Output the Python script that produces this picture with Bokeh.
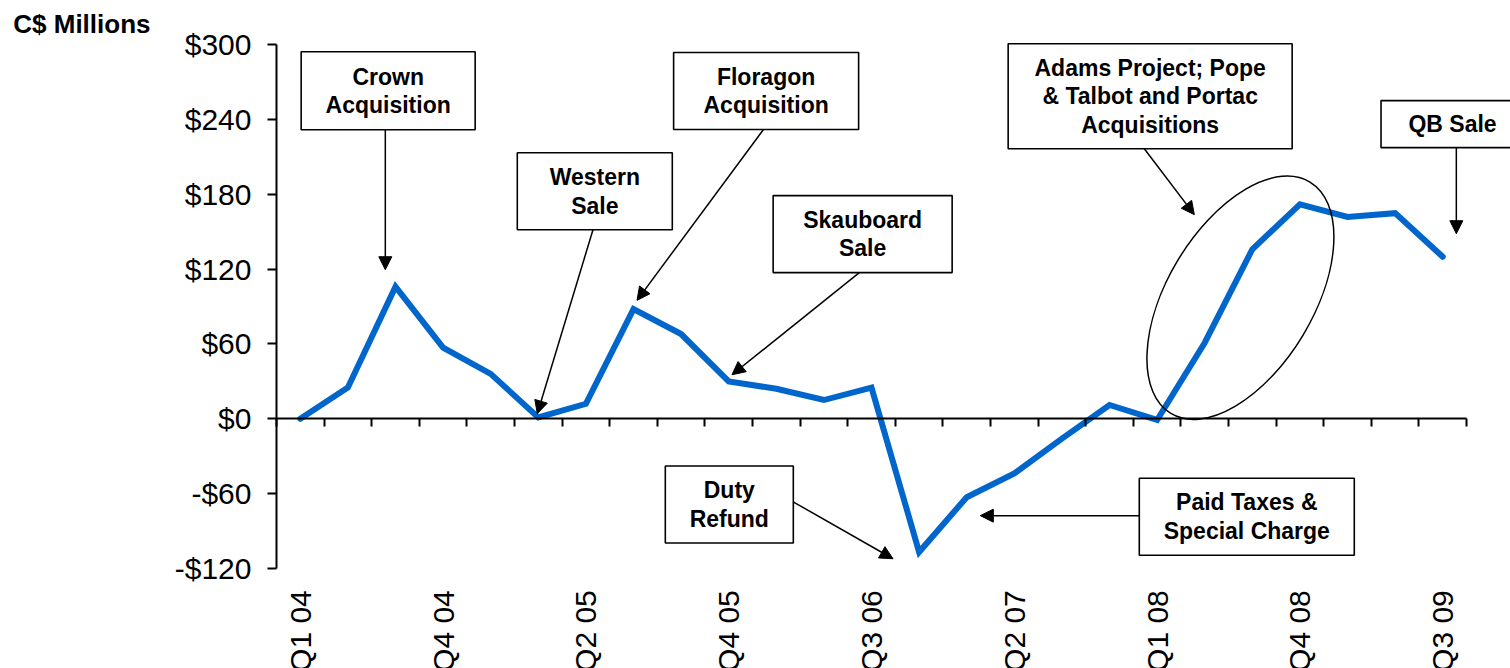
import math

from bokeh.core.properties import value
from bokeh.embed import file_html
from bokeh.models import (Arrow, ColumnDataSource, FixedTicker, LinearAxis,
                          NormalHead, NumeralTickFormatter, Range1d)
from bokeh.plotting import figure
from bokeh.resources import INLINE

# Quarterly values, C$ millions (Q1 04 .. Q3 09)
values = [0, 25, 106, 57, 36, 1, 12, 88, 68, 30, 24, 15, 25,
          -107, -63, -44, -16, 11, -1, 61, 136, 172, 162, 165, 130]

# Category labels shown on every third quarter
tick_labels = ["Q1 04", "Q4 04", "Q2 05", "Q4 05", "Q3 06",
               "Q2 07", "Q1 08", "Q4 08", "Q3 09"]
tick_step = 3

y_ticks = [-120, -60, 0, 60, 120, 180, 240, 300]

# Callout boxes: text, centre (x in quarter index, y in C$ M), size in px
callout_text = [
    "Crown\nAcquisition",
    "Western\nSale",
    "Floragon\nAcquisition",
    "Skauboard\nSale",
    "Adams Project; Pope\n& Talbot and Portac\nAcquisitions",
    "QB Sale",
    "Duty\nRefund",
    "Paid Taxes &\nSpecial Charge",
]
callout_x = [1.846, 6.187, 9.786, 11.814, 17.854, 24.206, 9.013, 19.884]
callout_y = [263.2, 182.6, 263.0, 148.2, 258.9, 236.5, -68.8, -78.7]
callout_w = [174, 155, 185, 179, 284, 143, 128, 215]
callout_h = [78, 77, 77, 77, 105, 47, 77, 77]

# Leader arrows: (x0, y0) -> (x1, y1)
arrow_x0 = [1.786, 6.149, 9.727, 11.744, 17.731, 24.286, 10.363, 17.626]
arrow_y0 = [232.0, 151.7, 232.0, 117.2, 216.7, 217.5, -66.9, -77.8]
arrow_x1 = [1.786, 4.979, 7.074, 9.069, 18.782, 24.286, 12.452, 14.286]
arrow_y1 = [119.6, 4.0, 95.0, 35.3, 163.8, 148.5, -112.4, -77.8]

# Ellipse around the 2008 acquisitions
ring_x, ring_y = 19.75, 97.1
ring_w, ring_h, ring_angle = 270, 146, 59

FONT = "Liberation Sans"
BLUE = "#0066CC"

n = len(values)
xs = list(range(n))

p = figure(width=1510, height=668, output_backend="svg", toolbar_location=None,
           x_range=Range1d(-6.298, 25.424), y_range=Range1d(-200.5, 335.7),
           x_axis_location=None, y_axis_location=None, min_border=0,
           outline_line_color=None, background_fill_color="white",
           border_fill_color="white")
p.grid.visible = False

# y axis with dollar labels, pinned at the left edge of the series
yax = LinearAxis(fixed_location=-0.5, bounds=(y_ticks[0], y_ticks[-1]),
                 ticker=FixedTicker(ticks=y_ticks),
                 formatter=NumeralTickFormatter(format="$0"))
yax.axis_line_width = 2
yax.major_tick_line_width = 2
yax.major_tick_out = 9
yax.major_tick_in = 0
yax.minor_tick_line_color = None
yax.major_label_standoff = 16
yax.major_label_text_font = FONT
yax.major_label_text_font_size = "30px"
yax.major_label_text_color = "black"
p.add_layout(yax, "left")

# zero line with a tick between each quarter
zax = LinearAxis(fixed_location=0, bounds=(-0.5, n - 0.5),
                 ticker=FixedTicker(ticks=[k - 0.5 for k in range(n + 1)]))
zax.axis_line_width = 2
zax.major_tick_line_width = 2
zax.major_tick_out = 8
zax.major_tick_in = 0
zax.minor_tick_line_color = None
zax.major_label_text_color = None
p.add_layout(zax, "below")

# quarter labels along the bottom
label_pos = list(range(0, n, tick_step))
xax = LinearAxis(fixed_location=y_ticks[0],
                 ticker=FixedTicker(ticks=label_pos))
xax.major_label_overrides = {pos: lab for pos, lab in zip(label_pos, tick_labels)}
xax.axis_line_color = None
xax.major_tick_line_color = None
xax.minor_tick_line_color = None
xax.major_tick_out = 0
xax.major_tick_in = 0
xax.major_label_standoff = 22
xax.major_label_orientation = math.pi / 2
xax.major_label_text_font = FONT
xax.major_label_text_font_size = "30px"
xax.major_label_text_color = "black"
p.add_layout(xax, "below")

# the series
p.line(xs, values, line_color=BLUE, line_width=6, line_join="miter",
       line_cap="round")

# ring around the acquisition ramp
p.ellipse(x=[ring_x], y=[ring_y], width=ring_w, height=ring_h,
          width_units="screen", height_units="screen",
          angle=math.radians(ring_angle), fill_color=None,
          line_color="black", line_width=1.5)

# leader arrows
for x0, y0, x1, y1 in zip(arrow_x0, arrow_y0, arrow_x1, arrow_y1):
    p.add_layout(Arrow(x_start=x0, y_start=y0, x_end=x1, y_end=y1,
                       line_color="black", line_width=1.5,
                       end=NormalHead(size=13, fill_color="black",
                                      line_color="black", line_width=1)))

# callout boxes and their captions
src = ColumnDataSource(dict(x=callout_x, y=callout_y, w=callout_w,
                            h=callout_h, t=callout_text))
p.rect(x="x", y="y", width="w", height="h", width_units="screen",
       height_units="screen", source=src, fill_color="white",
       line_color="black", line_width=1.6)
p.text(x="x", y="y", text="t", source=src, text_align="center",
       text_baseline="middle", text_font=value(FONT), text_font_style="bold",
       text_font_size="23px", text_line_height=1.1, text_color="black")

# unit caption
p.text(x=[-6.03], y=[317.1], text=["C$ Millions"], text_align="left",
       text_baseline="middle", text_font=value(FONT), text_font_style="bold",
       text_font_size="26px", text_color="black")

open("out.html", "w").write(file_html(p, INLINE))
